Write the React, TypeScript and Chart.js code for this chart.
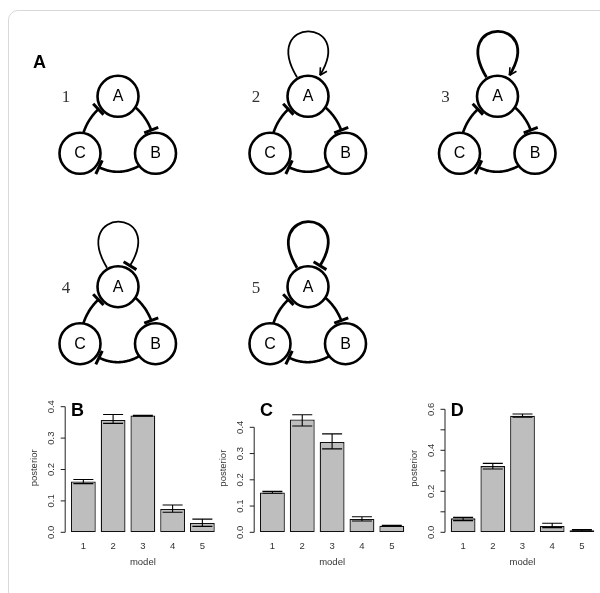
import React, { useEffect, useRef } from 'react';
import { Chart, registerables } from 'chart.js';

Chart.register(...registerables);

// ---------------- Panel A: candidate network models ----------------
const modelLabels = ['1', '2', '3', '4', '5'];
const modelRow = [0, 0, 0, 1, 1];
const modelCol = [0, 1, 2, 0, 1];
const modelSelfLoop = ['none', 'activation', 'activation', 'inhibition', 'inhibition'];
const modelLoopStrength = [0, 1, 2, 1, 2];
const nodeNames = ['A', 'B', 'C'];
// inhibitory cycle A -| B -| C -| A
const edgeFrom = [0, 1, 2];
const edgeTo = [1, 2, 0];

// ---------------- Panels B, C, D: posterior of each model ----------------
const categories = ['1', '2', '3', '4', '5'];
const xTitle = 'model';
const yTitle = 'posterior';

const postB = [0.162, 0.358, 0.372, 0.074, 0.030];
const lowB = [0.155, 0.347, 0.370, 0.064, 0.019];
const highB = [0.168, 0.375, 0.373, 0.087, 0.042];

const postC = [0.152, 0.430, 0.344, 0.051, 0.025];
const lowC = [0.149, 0.405, 0.318, 0.043, 0.024];
const highC = [0.156, 0.448, 0.375, 0.059, 0.027];

const postD = [0.068, 0.323, 0.569, 0.031, 0.010];
const lowD = [0.057, 0.309, 0.561, 0.023, 0.0065];
const highD = [0.073, 0.336, 0.577, 0.044, 0.013];

const ticksBC = [0, 0.1, 0.2, 0.3, 0.4];
const tickLabelsBC = ['0.0', '0.1', '0.2', '0.3', '0.4'];
const ticksD = [0, 0.1, 0.2, 0.3, 0.4, 0.5, 0.6];
const tickLabelsD = ['0.0', '', '0.2', '', '0.4', '', '0.6'];

// ---------------- layout / style ----------------
const FONT = '"Liberation Sans", Arial, Helvetica, sans-serif';
const SERIF = '"Liberation Serif", "Times New Roman", serif';

const NET = {
  width: 600,
  height: 390,
  colX: [118, 308, 497.5],
  rowY: [96.3, 286.7],
  nodeDx: [0, 37.5, -38],
  nodeDy: [0, 57, 57],
  edgeBend: [0.31, 0.49, 0.31],
  r: 20.5,
  lw: 2.6,
  teeGap: 3,
  teeHalf: 7.5,
  loopW: [0, 1.8, 2.8],
};

type Panel = {
  letter: string;
  values: number[];
  low: number[];
  high: number[];
  ticks: number[];
  tickLabels: string[];
  yMax: number;
  pxPerUnit: number;
  canvas: { left: number; top: number; width: number; height: number };
  areaLeft: number;
  areaRight: number;
  zeroY: number;
  xMin: number;
  xMax: number;
};

const panels: Panel[] = [
  {
    letter: 'B', values: postB, low: lowB, high: highB, ticks: ticksBC, tickLabels: tickLabelsBC,
    yMax: 0.42, pxPerUnit: 314,
    canvas: { left: 15, top: 390, width: 215, height: 203 },
    areaLeft: 65.2, areaRight: 220.5, zeroY: 532.3, xMin: -0.032, xMax: 6.232,
  },
  {
    letter: 'C', values: postC, low: lowC, high: highC, ticks: ticksBC, tickLabels: tickLabelsBC,
    yMax: 0.5, pxPerUnit: 262.5,
    canvas: { left: 205, top: 390, width: 210, height: 203 },
    areaLeft: 254.2, areaRight: 410, zeroY: 532.3, xMin: -0.032, xMax: 6.232,
  },
  {
    letter: 'D', values: postD, low: lowD, high: highD, ticks: ticksD, tickLabels: tickLabelsD,
    yMax: 0.64, pxPerUnit: 205,
    canvas: { left: 395, top: 390, width: 205, height: 203 },
    areaLeft: 445.0, areaRight: 600, zeroY: 532.3, xMin: -0.032, xMax: 6.232,
  },
];

function makeNetwork(canvas: HTMLCanvasElement) {
  const nodePoints: { x: number; y: number }[] = [];
  modelLabels.forEach((_, m) => {
    const ax = NET.colX[modelCol[m]];
    const ay = NET.rowY[modelRow[m]];
    nodeNames.forEach((_, n) => nodePoints.push({ x: ax + NET.nodeDx[n], y: ay + NET.nodeDy[n] }));
  });

  const plugin = {
    id: 'networkEdges',
    beforeDatasetsDraw(chart: any) {
      const ctx: CanvasRenderingContext2D = chart.ctx;
      const xs = chart.scales.x;
      const ys = chart.scales.y;
      const px = (x: number) => xs.getPixelForValue(x);
      const py = (y: number) => ys.getPixelForValue(y);
      ctx.save();
      ctx.strokeStyle = '#000';
      ctx.lineCap = 'butt';
      modelLabels.forEach((_, m) => {
        const ax = NET.colX[modelCol[m]];
        const ay = NET.rowY[modelRow[m]];
        // cycle edges
        edgeFrom.forEach((s, e) => {
          const t = edgeTo[e];
          const sx = ax + NET.nodeDx[s], sy = ay + NET.nodeDy[s];
          const tx = ax + NET.nodeDx[t], ty = ay + NET.nodeDy[t];
          const dx = tx - sx, dy = ty - sy;
          const len = Math.hypot(dx, dy);
          const nx = dy / len, ny = -dx / len;
          const cx = (sx + tx) / 2 + nx * NET.edgeBend[e] * len;
          const cy = (sy + ty) / 2 + ny * NET.edgeBend[e] * len;
          const q = (u: number) => [
            (1 - u) * (1 - u) * sx + 2 * u * (1 - u) * cx + u * u * tx,
            (1 - u) * (1 - u) * sy + 2 * u * (1 - u) * cy + u * u * ty,
          ];
          let tEnd = 1;
          while (tEnd > 0) {
            const [qx, qy] = q(tEnd);
            if (Math.hypot(qx - tx, qy - ty) >= NET.r + NET.teeGap) break;
            tEnd -= 0.002;
          }
          ctx.lineWidth = NET.lw;
          ctx.beginPath();
          for (let k = 0; k <= 80; k++) {
            const [qx, qy] = q((k / 80) * tEnd);
            if (k === 0) ctx.moveTo(px(qx), py(qy));
            else ctx.lineTo(px(qx), py(qy));
          }
          ctx.stroke();
          // tee
          const [ex, ey] = q(tEnd);
          const [fx, fy] = q(tEnd - 0.01);
          const tl = Math.hypot(ex - fx, ey - fy);
          const ux = (ex - fx) / tl, uy = (ey - fy) / tl;
          ctx.lineWidth = 3;
          ctx.beginPath();
          ctx.moveTo(px(ex - uy * NET.teeHalf), py(ey + ux * NET.teeHalf));
          ctx.lineTo(px(ex + uy * NET.teeHalf), py(ey - ux * NET.teeHalf));
          ctx.stroke();
        });
        // self loop on A
        const kind = modelSelfLoop[m];
        if (kind !== 'none') {
          const p0 = [ax - 11, ay - 19];
          const c1 = [ax - 48, ay - 80];
          const c2 = [ax + 48, ay - 80];
          const p3 = [ax + 12, ay - 21];
          ctx.lineWidth = NET.loopW[modelLoopStrength[m]];
          ctx.beginPath();
          ctx.moveTo(px(p0[0]), py(p0[1]));
          ctx.bezierCurveTo(px(c1[0]), py(c1[1]), px(c2[0]), py(c2[1]), px(p3[0]), py(p3[1]));
          ctx.stroke();
          const dl = Math.hypot(p3[0] - c2[0], p3[1] - c2[1]);
          const ux = (p3[0] - c2[0]) / dl, uy = (p3[1] - c2[1]) / dl;
          if (kind === 'inhibition') {
            ctx.lineWidth = 3;
            ctx.beginPath();
            ctx.moveTo(px(p3[0] - uy * NET.teeHalf), py(p3[1] + ux * NET.teeHalf));
            ctx.lineTo(px(p3[0] + uy * NET.teeHalf), py(p3[1] - ux * NET.teeHalf));
            ctx.stroke();
          } else {
            const ang = 0.5, al = 8;
            ctx.lineWidth = 1.6;
            ctx.beginPath();
            for (const sgn of [-1, 1]) {
              const ca = Math.cos(sgn * ang), sa = Math.sin(sgn * ang);
              const bx = -(ux * ca - uy * sa), by = -(ux * sa + uy * ca);
              ctx.moveTo(px(p3[0]), py(p3[1]));
              ctx.lineTo(px(p3[0] + bx * al), py(p3[1] + by * al));
            }
            ctx.stroke();
          }
        }
      });
      ctx.restore();
    },
    afterDatasetsDraw(chart: any) {
      const ctx: CanvasRenderingContext2D = chart.ctx;
      const xs = chart.scales.x;
      const ys = chart.scales.y;
      ctx.save();
      ctx.textAlign = 'center';
      ctx.textBaseline = 'middle';
      modelLabels.forEach((lbl, m) => {
        const ax = NET.colX[modelCol[m]];
        const ay = NET.rowY[modelRow[m]];
        ctx.fillStyle = '#000';
        ctx.font = `16px ${FONT}`;
        nodeNames.forEach((name, n) => {
          ctx.fillText(name, xs.getPixelForValue(ax + NET.nodeDx[n]), ys.getPixelForValue(ay + NET.nodeDy[n]) + 0.5);
        });
        ctx.fillStyle = '#333';
        ctx.font = `17px ${SERIF}`;
        ctx.fillText(lbl, xs.getPixelForValue(ax - 52), ys.getPixelForValue(ay + 1.5));
      });
      ctx.fillStyle = '#000';
      ctx.font = `bold 18px ${FONT}`;
      ctx.textAlign = 'left';
      ctx.textBaseline = 'alphabetic';
      ctx.fillText('A', 33, 67.7);
      ctx.restore();
    },
  };

  return new Chart(canvas, {
    type: 'scatter',
    data: {
      datasets: [
        {
          data: nodePoints,
          pointRadius: NET.r,
          pointHoverRadius: NET.r,
          pointBorderWidth: NET.lw,
          pointHoverBorderWidth: NET.lw,
          pointBorderColor: '#000',
          pointBackgroundColor: '#fff',
          clip: false as any,
        },
      ],
    },
    options: {
      animation: false,
      responsive: false,
      maintainAspectRatio: false,
      events: [],
      layout: { padding: 0, autoPadding: false },
      plugins: { legend: { display: false }, tooltip: { enabled: false } },
      scales: {
        x: { type: 'linear', display: false, min: 0, max: NET.width },
        y: { type: 'linear', display: false, min: 0, max: NET.height, reverse: true },
      },
    },
    plugins: [plugin],
  });
}

function makeBarChart(canvas: HTMLCanvasElement, p: Panel) {
  const c = p.canvas;
  const areaTop = p.zeroY - p.yMax * p.pxPerUnit;
  const barX = categories.map((_, i) => 0.7 + 1.2 * i);

  const decor = {
    id: 'rBarDecor',
    afterDatasetsDraw(chart: any) {
      const ctx: CanvasRenderingContext2D = chart.ctx;
      const xs = chart.scales.x;
      const ys = chart.scales.y;
      const area = chart.chartArea;
      const axisX = area.left;
      ctx.save();
      // error bars
      ctx.strokeStyle = '#000';
      ctx.lineWidth = 1.1;
      p.values.forEach((_, i) => {
        const cx = xs.getPixelForValue(barX[i]);
        const yl = ys.getPixelForValue(p.low[i]);
        const yh = ys.getPixelForValue(p.high[i]);
        ctx.beginPath();
        ctx.moveTo(cx, yl);
        ctx.lineTo(cx, yh);
        ctx.moveTo(cx - 10, yl);
        ctx.lineTo(cx + 10, yl);
        ctx.moveTo(cx - 10, yh);
        ctx.lineTo(cx + 10, yh);
        ctx.stroke();
      });
      // R-style y axis
      const y0 = ys.getPixelForValue(p.ticks[0]);
      const y1 = ys.getPixelForValue(p.ticks[p.ticks.length - 1]);
      ctx.strokeStyle = '#222';
      ctx.lineWidth = 1;
      ctx.beginPath();
      ctx.moveTo(axisX, y0);
      ctx.lineTo(axisX, y1);
      p.ticks.forEach((t) => {
        const yy = ys.getPixelForValue(t);
        ctx.moveTo(axisX, yy);
        ctx.lineTo(axisX - 4.5, yy);
      });
      ctx.stroke();
      ctx.fillStyle = '#333';
      ctx.font = `9.5px ${FONT}`;
      ctx.textAlign = 'center';
      ctx.textBaseline = 'alphabetic';
      p.ticks.forEach((t, i) => {
        const lbl = p.tickLabels[i];
        if (!lbl) return;
        ctx.save();
        ctx.translate(axisX - 11, ys.getPixelForValue(t));
        ctx.rotate(-Math.PI / 2);
        ctx.fillText(lbl, 0, 0);
        ctx.restore();
      });
      ctx.save();
      ctx.translate(axisX - 28.5, (area.top + area.bottom) / 2 + 1.5);
      ctx.rotate(-Math.PI / 2);
      ctx.fillText(yTitle, 0, 0);
      ctx.restore();
      // x labels
      categories.forEach((cat, i) => {
        ctx.fillText(cat, xs.getPixelForValue(barX[i]), area.bottom + 16.2);
      });
      ctx.fillText(xTitle, (area.left + area.right) / 2, area.bottom + 32.7);
      // panel letter
      ctx.fillStyle = '#000';
      ctx.font = `bold 18px ${FONT}`;
      ctx.textAlign = 'left';
      ctx.fillText(p.letter, xs.getPixelForValue(0.2), 415.5 - c.top);
      ctx.restore();
    },
  };

  return new Chart(canvas, {
    type: 'bar',
    data: {
      datasets: [
        {
          data: p.values.map((v, i) => ({ x: barX[i], y: v })),
          backgroundColor: '#bebebe',
          borderColor: '#111',
          borderWidth: 1.3,
          borderSkipped: false,
          barPercentage: 1 / 1.2,
          categoryPercentage: 1,
        } as any,
      ],
    },
    options: {
      animation: false,
      responsive: false,
      maintainAspectRatio: false,
      events: [],
      layout: {
        autoPadding: false,
        padding: {
          left: p.areaLeft - c.left,
          right: c.left + c.width - p.areaRight,
          top: areaTop - c.top,
          bottom: c.top + c.height - p.zeroY,
        },
      },
      plugins: { legend: { display: false }, tooltip: { enabled: false } },
      scales: {
        x: { type: 'linear', display: false, min: p.xMin, max: p.xMax, offset: false },
        y: { type: 'linear', display: false, min: 0, max: p.yMax },
      },
    },
    plugins: [decor],
  });
}

export default function App() {
  const netRef = useRef<HTMLCanvasElement>(null);
  const barRefs = [useRef<HTMLCanvasElement>(null), useRef<HTMLCanvasElement>(null), useRef<HTMLCanvasElement>(null)];

  useEffect(() => {
    const charts: Chart[] = [];
    if (netRef.current) charts.push(makeNetwork(netRef.current));
    panels.forEach((p, i) => {
      const cv = barRefs[i].current;
      if (cv) charts.push(makeBarChart(cv, p));
    });
    return () => charts.forEach((ch) => ch.destroy());
  }, []);

  return (
    <div style={{ position: 'absolute', left: 0, top: 0, width: 600, height: 593, overflow: 'hidden', background: '#fff' }}>
      <div
        style={{
          position: 'absolute', left: 8, top: 10, width: 660, height: 660,
          border: '1.5px solid #d9d9d9', borderRadius: 10, boxSizing: 'border-box',
        }}
      />
      <canvas
        ref={netRef}
        width={NET.width}
        height={NET.height}
        style={{ position: 'absolute', left: 0, top: 0, width: NET.width, height: NET.height }}
      />
      {panels.map((p, i) => (
        <canvas
          key={p.letter}
          ref={barRefs[i]}
          width={p.canvas.width}
          height={p.canvas.height}
          style={{ position: 'absolute', left: p.canvas.left, top: p.canvas.top, width: p.canvas.width, height: p.canvas.height }}
        />
      ))}
    </div>
  );
}
